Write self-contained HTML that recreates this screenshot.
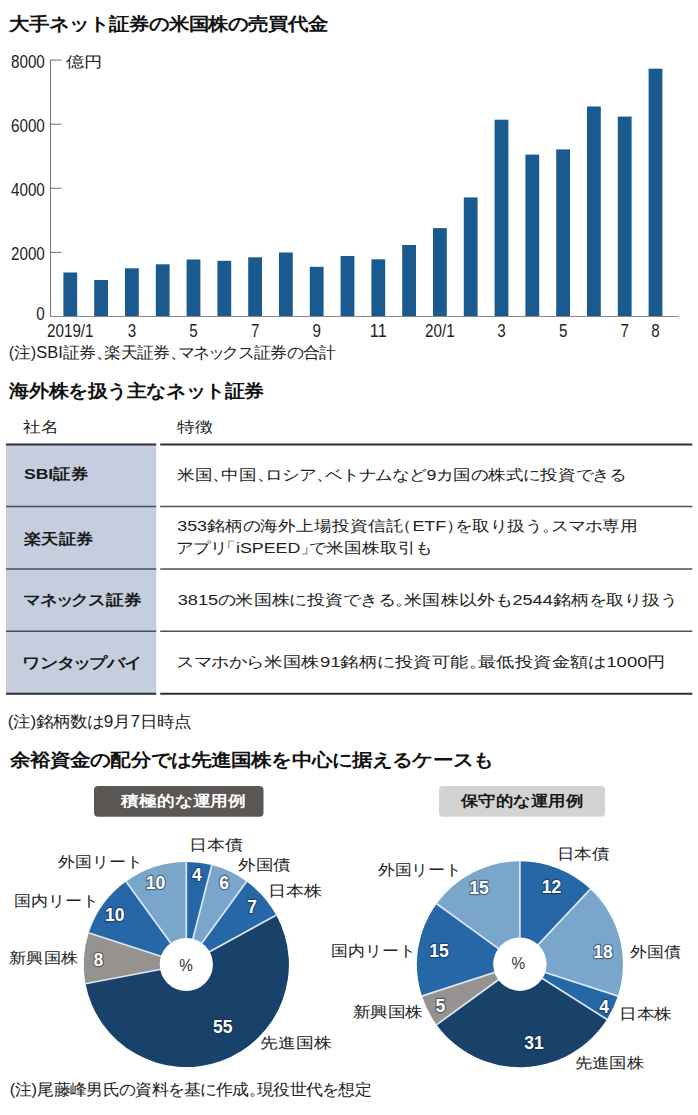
<!DOCTYPE html>
<html><head><meta charset="utf-8"><style>
html,body{margin:0;padding:0;background:#fff;}
svg{display:block;font-family:"Liberation Sans", sans-serif;}
</style></head><body>
<svg width="698" height="1115" viewBox="0 0 698 1115">
<rect width="698" height="1115" fill="#fff"/>
<line x1="50.5" y1="60" x2="50.5" y2="316.5" stroke="#7a7a7a" stroke-width="1.1"/>
<line x1="50.5" y1="60.1" x2="61.5" y2="60.1" stroke="#7a7a7a" stroke-width="1.1"/>
<line x1="50.5" y1="124.2" x2="61.5" y2="124.2" stroke="#7a7a7a" stroke-width="1.1"/>
<line x1="50.5" y1="188.3" x2="61.5" y2="188.3" stroke="#7a7a7a" stroke-width="1.1"/>
<line x1="50.5" y1="252.4" x2="61.5" y2="252.4" stroke="#7a7a7a" stroke-width="1.1"/>
<text x="11.00" y="67.96" font-size="19" fill="#222" textLength="33.80" lengthAdjust="spacingAndGlyphs">8000</text>
<text x="11.00" y="132.06" font-size="19" fill="#222" textLength="33.80" lengthAdjust="spacingAndGlyphs">6000</text>
<text x="11.00" y="196.16" font-size="19" fill="#222" textLength="33.80" lengthAdjust="spacingAndGlyphs">4000</text>
<text x="11.00" y="260.25" font-size="19" fill="#222" textLength="33.80" lengthAdjust="spacingAndGlyphs">2000</text>
<text x="36.36" y="320.45" font-size="19" fill="#222" textLength="8.45" lengthAdjust="spacingAndGlyphs">0</text>
<rect x="63.40" y="272.5" width="13.8" height="44.0" fill="#1b5a8e"/>
<rect x="94.20" y="280" width="13.8" height="36.5" fill="#1b5a8e"/>
<rect x="125.00" y="268.3" width="13.8" height="48.2" fill="#1b5a8e"/>
<rect x="155.80" y="264.3" width="13.8" height="52.2" fill="#1b5a8e"/>
<rect x="186.60" y="259.5" width="13.8" height="57.0" fill="#1b5a8e"/>
<rect x="217.40" y="260.8" width="13.8" height="55.7" fill="#1b5a8e"/>
<rect x="248.20" y="257.3" width="13.8" height="59.2" fill="#1b5a8e"/>
<rect x="279.00" y="252.5" width="13.8" height="64.0" fill="#1b5a8e"/>
<rect x="309.80" y="266.8" width="13.8" height="49.7" fill="#1b5a8e"/>
<rect x="340.60" y="256" width="13.8" height="60.5" fill="#1b5a8e"/>
<rect x="371.40" y="259.3" width="13.8" height="57.2" fill="#1b5a8e"/>
<rect x="402.20" y="245" width="13.8" height="71.5" fill="#1b5a8e"/>
<rect x="433.00" y="228.1" width="13.8" height="88.4" fill="#1b5a8e"/>
<rect x="463.80" y="197.4" width="13.8" height="119.1" fill="#1b5a8e"/>
<rect x="494.60" y="119.7" width="13.8" height="196.8" fill="#1b5a8e"/>
<rect x="525.40" y="154.6" width="13.8" height="161.9" fill="#1b5a8e"/>
<rect x="556.20" y="149.4" width="13.8" height="167.1" fill="#1b5a8e"/>
<rect x="587.00" y="106.5" width="13.8" height="210.0" fill="#1b5a8e"/>
<rect x="617.80" y="116.6" width="13.8" height="199.9" fill="#1b5a8e"/>
<rect x="648.60" y="68.7" width="13.8" height="247.8" fill="#1b5a8e"/>
<line x1="50.0" y1="316.5" x2="679" y2="316.5" stroke="#8a8a8a" stroke-width="1.2"/>
<text x="70.30" y="337.0" font-size="19" fill="#222" text-anchor="middle" textLength="46.48" lengthAdjust="spacingAndGlyphs">2019/1</text>
<text x="131.90" y="337.0" font-size="19" fill="#222" text-anchor="middle" textLength="8.45" lengthAdjust="spacingAndGlyphs">3</text>
<text x="193.50" y="337.0" font-size="19" fill="#222" text-anchor="middle" textLength="8.45" lengthAdjust="spacingAndGlyphs">5</text>
<text x="255.10" y="337.0" font-size="19" fill="#222" text-anchor="middle" textLength="8.45" lengthAdjust="spacingAndGlyphs">7</text>
<text x="316.70" y="337.0" font-size="19" fill="#222" text-anchor="middle" textLength="8.45" lengthAdjust="spacingAndGlyphs">9</text>
<text x="378.30" y="337.0" font-size="19" fill="#222" text-anchor="middle" textLength="16.90" lengthAdjust="spacingAndGlyphs">11</text>
<text x="439.90" y="337.0" font-size="19" fill="#222" text-anchor="middle" textLength="29.58" lengthAdjust="spacingAndGlyphs">20/1</text>
<text x="501.50" y="337.0" font-size="19" fill="#222" text-anchor="middle" textLength="8.45" lengthAdjust="spacingAndGlyphs">3</text>
<text x="563.10" y="337.0" font-size="19" fill="#222" text-anchor="middle" textLength="8.45" lengthAdjust="spacingAndGlyphs">5</text>
<text x="624.70" y="337.0" font-size="19" fill="#222" text-anchor="middle" textLength="8.45" lengthAdjust="spacingAndGlyphs">7</text>
<text x="655.50" y="337.0" font-size="19" fill="#222" text-anchor="middle" textLength="8.45" lengthAdjust="spacingAndGlyphs">8</text>
<rect x="6" y="445" width="150.2" height="249" fill="#c5cedf"/>
<line x1="6" y1="444.5" x2="156.2" y2="444.5" stroke="#2b2e36" stroke-width="2"/>
<line x1="160.2" y1="444.5" x2="692.3" y2="444.5" stroke="#2b2e36" stroke-width="2"/>
<line x1="6" y1="506.5" x2="156.2" y2="506.5" stroke="#4a4f59" stroke-width="1.6"/>
<line x1="160.2" y1="506.5" x2="692.3" y2="506.5" stroke="#4a4f59" stroke-width="1.6"/>
<line x1="6" y1="569" x2="156.2" y2="569" stroke="#4a4f59" stroke-width="1.6"/>
<line x1="160.2" y1="569" x2="692.3" y2="569" stroke="#4a4f59" stroke-width="1.6"/>
<line x1="6" y1="631.3" x2="156.2" y2="631.3" stroke="#4a4f59" stroke-width="1.6"/>
<line x1="160.2" y1="631.3" x2="692.3" y2="631.3" stroke="#4a4f59" stroke-width="1.6"/>
<line x1="6" y1="693.8" x2="156.2" y2="693.8" stroke="#2b2e36" stroke-width="2"/>
<line x1="160.2" y1="693.8" x2="692.3" y2="693.8" stroke="#2b2e36" stroke-width="2"/>
<rect x="94" y="786" width="169.5" height="30.8" rx="4" fill="#5b5755"/>
<rect x="439" y="786" width="166" height="30.8" rx="4" fill="#d4d3d3"/>
<path d="M186.3,964.5 L186.30,861.90 A102.6,102.6 0 0 1 211.82,865.12 Z" fill="#2667a8"/>
<path d="M186.3,964.5 L211.82,865.12 A102.6,102.6 0 0 1 246.61,881.49 Z" fill="#7aa6cc"/>
<path d="M186.3,964.5 L246.61,881.49 A102.6,102.6 0 0 1 276.21,915.07 Z" fill="#2667a8"/>
<path d="M186.3,964.5 L276.21,915.07 A102.6,102.6 0 1 1 85.52,983.73 Z" fill="#18426a"/>
<path d="M186.3,964.5 L85.52,983.73 A102.6,102.6 0 0 1 88.72,932.79 Z" fill="#96928f"/>
<path d="M186.3,964.5 L88.72,932.79 A102.6,102.6 0 0 1 125.99,881.49 Z" fill="#2667a8"/>
<path d="M186.3,964.5 L125.99,881.49 A102.6,102.6 0 0 1 186.30,861.90 Z" fill="#7aa6cc"/>
<line x1="186.3" y1="964.5" x2="186.30" y2="861.60" stroke="#dbe8f5" stroke-width="1.7"/>
<line x1="186.3" y1="964.5" x2="211.89" y2="864.83" stroke="#dbe8f5" stroke-width="1.7"/>
<line x1="186.3" y1="964.5" x2="246.78" y2="881.25" stroke="#dbe8f5" stroke-width="1.7"/>
<line x1="186.3" y1="964.5" x2="276.47" y2="914.93" stroke="#dbe8f5" stroke-width="1.7"/>
<line x1="186.3" y1="964.5" x2="85.22" y2="983.78" stroke="#dbe8f5" stroke-width="1.7"/>
<line x1="186.3" y1="964.5" x2="88.44" y2="932.70" stroke="#dbe8f5" stroke-width="1.7"/>
<line x1="186.3" y1="964.5" x2="125.82" y2="881.25" stroke="#dbe8f5" stroke-width="1.7"/>
<circle cx="186.3" cy="964.5" r="26.6" fill="#fff"/>
<path d="M519.9,964.2 L519.90,861.20 A103,103 0 0 1 590.41,889.12 Z" fill="#2667a8"/>
<path d="M519.9,964.2 L590.41,889.12 A103,103 0 0 1 617.86,996.03 Z" fill="#7aa6cc"/>
<path d="M519.9,964.2 L617.86,996.03 A103,103 0 0 1 606.87,1019.39 Z" fill="#2667a8"/>
<path d="M519.9,964.2 L606.87,1019.39 A103,103 0 0 1 436.57,1024.74 Z" fill="#18426a"/>
<path d="M519.9,964.2 L436.57,1024.74 A103,103 0 0 1 421.94,996.03 Z" fill="#96928f"/>
<path d="M519.9,964.2 L421.94,996.03 A103,103 0 0 1 436.57,903.66 Z" fill="#2667a8"/>
<path d="M519.9,964.2 L436.57,903.66 A103,103 0 0 1 519.90,861.20 Z" fill="#7aa6cc"/>
<line x1="519.9" y1="964.2" x2="519.90" y2="860.90" stroke="#dbe8f5" stroke-width="1.7"/>
<line x1="519.9" y1="964.2" x2="590.61" y2="888.90" stroke="#dbe8f5" stroke-width="1.7"/>
<line x1="519.9" y1="964.2" x2="618.14" y2="996.12" stroke="#dbe8f5" stroke-width="1.7"/>
<line x1="519.9" y1="964.2" x2="607.12" y2="1019.55" stroke="#dbe8f5" stroke-width="1.7"/>
<line x1="519.9" y1="964.2" x2="436.33" y2="1024.92" stroke="#dbe8f5" stroke-width="1.7"/>
<line x1="519.9" y1="964.2" x2="421.66" y2="996.12" stroke="#dbe8f5" stroke-width="1.7"/>
<line x1="519.9" y1="964.2" x2="436.33" y2="903.48" stroke="#dbe8f5" stroke-width="1.7"/>
<circle cx="519.9" cy="964.2" r="26.7" fill="#fff"/>
<text x="196.9" y="881.39" font-size="18.1" font-weight="bold" fill="#fff" text-anchor="middle" textLength="9.76" lengthAdjust="spacingAndGlyphs" stroke="#10243d" stroke-width="2.4" stroke-opacity="0.5" paint-order="stroke" stroke-linejoin="round">4</text>
<text x="224.2" y="888.94" font-size="18.1" font-weight="bold" fill="#fff" text-anchor="middle" textLength="9.76" lengthAdjust="spacingAndGlyphs" stroke="#10243d" stroke-width="2.4" stroke-opacity="0.5" paint-order="stroke" stroke-linejoin="round">6</text>
<text x="252.1" y="913.34" font-size="18.1" font-weight="bold" fill="#fff" text-anchor="middle" textLength="9.76" lengthAdjust="spacingAndGlyphs" stroke="#10243d" stroke-width="2.4" stroke-opacity="0.5" paint-order="stroke" stroke-linejoin="round">7</text>
<text x="222.8" y="1032.69" font-size="18.1" font-weight="bold" fill="#fff" text-anchor="middle" textLength="19.52" lengthAdjust="spacingAndGlyphs" stroke="#10243d" stroke-width="2.4" stroke-opacity="0.5" paint-order="stroke" stroke-linejoin="round">55</text>
<text x="98.4" y="965.94" font-size="18.1" font-weight="bold" fill="#fff" text-anchor="middle" textLength="9.76" lengthAdjust="spacingAndGlyphs" stroke="#10243d" stroke-width="2.4" stroke-opacity="0.5" paint-order="stroke" stroke-linejoin="round">8</text>
<text x="114.7" y="921.49" font-size="18.1" font-weight="bold" fill="#fff" text-anchor="middle" textLength="19.52" lengthAdjust="spacingAndGlyphs" stroke="#10243d" stroke-width="2.4" stroke-opacity="0.5" paint-order="stroke" stroke-linejoin="round">10</text>
<text x="155.4" y="888.94" font-size="18.1" font-weight="bold" fill="#fff" text-anchor="middle" textLength="19.52" lengthAdjust="spacingAndGlyphs" stroke="#10243d" stroke-width="2.4" stroke-opacity="0.5" paint-order="stroke" stroke-linejoin="round">10</text>
<text x="551.4" y="892.54" font-size="18.1" font-weight="bold" fill="#fff" text-anchor="middle" textLength="19.52" lengthAdjust="spacingAndGlyphs" stroke="#10243d" stroke-width="2.4" stroke-opacity="0.5" paint-order="stroke" stroke-linejoin="round">12</text>
<text x="603.1" y="957.79" font-size="18.1" font-weight="bold" fill="#fff" text-anchor="middle" textLength="19.52" lengthAdjust="spacingAndGlyphs" stroke="#10243d" stroke-width="2.4" stroke-opacity="0.5" paint-order="stroke" stroke-linejoin="round">18</text>
<text x="604.1" y="1012.79" font-size="18.1" font-weight="bold" fill="#fff" text-anchor="middle" textLength="9.76" lengthAdjust="spacingAndGlyphs" stroke="#10243d" stroke-width="2.4" stroke-opacity="0.5" paint-order="stroke" stroke-linejoin="round">4</text>
<text x="533.9" y="1049.49" font-size="18.1" font-weight="bold" fill="#fff" text-anchor="middle" textLength="19.52" lengthAdjust="spacingAndGlyphs" stroke="#10243d" stroke-width="2.4" stroke-opacity="0.5" paint-order="stroke" stroke-linejoin="round">31</text>
<text x="440.5" y="1011.99" font-size="18.1" font-weight="bold" fill="#fff" text-anchor="middle" textLength="9.76" lengthAdjust="spacingAndGlyphs" stroke="#10243d" stroke-width="2.4" stroke-opacity="0.5" paint-order="stroke" stroke-linejoin="round">5</text>
<text x="438.9" y="957.29" font-size="18.1" font-weight="bold" fill="#fff" text-anchor="middle" textLength="19.52" lengthAdjust="spacingAndGlyphs" stroke="#10243d" stroke-width="2.4" stroke-opacity="0.5" paint-order="stroke" stroke-linejoin="round">15</text>
<text x="479.0" y="893.54" font-size="18.1" font-weight="bold" fill="#fff" text-anchor="middle" textLength="19.52" lengthAdjust="spacingAndGlyphs" stroke="#10243d" stroke-width="2.4" stroke-opacity="0.5" paint-order="stroke" stroke-linejoin="round">15</text>
<text x="186.0" y="970.63" font-size="17" fill="#333" text-anchor="middle" textLength="13.60" lengthAdjust="spacingAndGlyphs">%</text>
<text x="518.4" y="968.93" font-size="17" fill="#333" text-anchor="middle" textLength="13.60" lengthAdjust="spacingAndGlyphs">%</text>
<text transform="scale(1.1327 1)" x="8.03 25.63 43.23 60.83 78.43 96.03 113.63 131.23 148.83 166.43 184.03 201.63 219.23 236.83 254.43 272.03" y="30.24" font-size="17.6" font-weight="bold" fill="#111">大手ネット証券の米国株の売買代金</text>
<text transform="scale(1.2240 1)" x="53.74 68.74" y="67.00" font-size="15" font-weight="normal" fill="#222">億円</text>
<text transform="scale(1.0562 1)" x="8.38 13.57 29.17 34.37 44.77 55.18 59.51 75.11 90.71 98.51 114.11 129.71 145.31 160.91 168.32 183.14 196.79 210.44 225.26 240.47 256.07 271.28 286.49 302.09" y="358.44" font-size="15.6" font-weight="normal" fill="#222">(注)SBI証券、楽天証券、マネックス証券の合計</text>
<text transform="scale(1.1121 1)" x="8.53 26.13 43.73 61.33 78.93 96.53 114.13 131.73 149.33 166.93 184.53 202.13 219.73" y="397.14" font-size="17.6" font-weight="bold" fill="#111">海外株を扱う主なネット証券</text>
<text transform="scale(1.1785 1)" x="19.83 35.03" y="432.48" font-size="15.2" font-weight="normal" fill="#222">社名</text>
<text transform="scale(1.1922 1)" x="148.27 163.47" y="432.08" font-size="15.2" font-weight="normal" fill="#222">特徴</text>
<text transform="scale(1.1550 1)" x="20.75 30.89 41.87 46.09 61.29" y="479.48" font-size="15.2" font-weight="bold" fill="#1a1a1a">SBI証券</text>
<text transform="scale(1.1495 1)" x="20.69 35.89 51.09 66.29" y="543.78" font-size="15.2" font-weight="bold" fill="#1a1a1a">楽天証券</text>
<text transform="scale(1.1726 1)" x="19.90 34.34 47.64 60.94 75.38 90.20 105.40" y="605.28" font-size="15.2" font-weight="bold" fill="#1a1a1a">マネックス証券</text>
<text transform="scale(1.2097 1)" x="18.45 32.89 47.33 60.63 73.93 88.37 102.81" y="667.58" font-size="15.2" font-weight="bold" fill="#1a1a1a">ワンタップバイ</text>
<text transform="scale(1.1697 1)" x="151.13 166.33 181.53 189.13 204.33 219.53 226.75 241.19 255.63 270.45 277.67 292.11 306.55 320.99 335.43 349.87 364.69 372.77 387.59 402.41 417.23 432.43 447.25 462.07 477.27 492.09 506.53 520.97" y="479.98" font-size="15.2" font-weight="normal" fill="#222">米国、中国、ロシア、ベトナムなど9カ国の株式に投資できる</text>
<text transform="scale(1.1797 1)" x="150.19 158.65 167.10 175.55 190.75 205.57 220.39 235.59 250.79 265.99 281.19 296.39 311.59 326.79 334.39 349.59 359.73 369.02 378.30 385.52 400.34 415.16 429.98 444.80 459.62 466.84 481.28 495.72 510.54 525.74" y="530.68" font-size="15.2" font-weight="normal" fill="#222">353銘柄の海外上場投資信託（ETF）を取り扱う。スマホ専用</text>
<text transform="scale(1.1736 1)" x="149.74 164.18 178.62 185.84 201.04 204.42 214.56 224.69 234.83 244.97 255.95 263.17 277.99 293.19 308.39 323.59 338.79 353.61" y="552.68" font-size="15.2" font-weight="normal" fill="#222">アプリ「iSPEED」で米国株取引も</text>
<text transform="scale(1.1949 1)" x="148.78 157.23 165.69 174.14 182.21 197.03 212.23 227.43 242.25 257.07 272.27 287.09 301.53 315.97 330.79 338.39 353.59 368.79 383.99 399.19 414.01 428.83 437.29 445.74 454.20 462.65 477.85 492.67 507.49 522.31 537.13 551.95" y="604.88" font-size="15.2" font-weight="normal" fill="#222">3815の米国株に投資できる。米国株以外も2544銘柄を取り扱う</text>
<text transform="scale(1.2149 1)" x="145.13 159.57 174.01 188.45 202.89 217.71 232.91 248.11 263.31 271.76 280.22 295.42 310.24 325.06 340.26 355.46 370.66 385.86 393.46 408.66 423.86 439.06 454.26 469.46 484.28 499.10 507.55 516.00 524.46 532.91" y="666.68" font-size="15.2" font-weight="normal" fill="#222">スマホから米国株91銘柄に投資可能。最低投資金額は1000円</text>
<text transform="scale(1.0966 1)" x="7.06 12.26 27.86 33.05 48.65 64.25 79.46 94.67 103.35 118.95 127.62 143.22 158.82" y="726.84" font-size="15.6" font-weight="normal" fill="#222">(注)銘柄数は9月7日時点</text>
<text transform="scale(1.1443 1)" x="8.47 26.07 43.67 61.27 78.87 96.47 114.07 131.67 149.27 166.87 184.47 202.07 219.67 237.27 254.87 272.47 290.07 307.67 325.27 342.87 360.47 378.07 395.67 413.27" y="765.84" font-size="17.6" font-weight="bold" fill="#111">余裕資金の配分では先進国株を中心に据えるケースも</text>
<text transform="scale(1.1784 1)" x="102.59 117.79 132.99 148.19 163.39 178.59 193.79" y="806.28" font-size="15.2" font-weight="bold" fill="#fff">積極的な運用例</text>
<text transform="scale(1.1547 1)" x="398.96 414.16 429.36 444.56 459.76 474.96 490.16" y="806.08" font-size="15.2" font-weight="bold" fill="#1a1a1a">保守的な運用例</text>
<text transform="scale(1.2009 1)" x="157.14 172.14 187.14" y="849.60" font-size="15.0" font-weight="normal" fill="#222">日本債</text>
<text transform="scale(1.1662 1)" x="204.51 219.51 234.51" y="869.90" font-size="15.0" font-weight="normal" fill="#222">外国債</text>
<text transform="scale(1.2013 1)" x="223.34 238.34 253.34" y="895.80" font-size="15.0" font-weight="normal" fill="#222">日本株</text>
<text transform="scale(1.1844 1)" x="219.77 234.77 249.77 264.77" y="1047.90" font-size="15.0" font-weight="normal" fill="#222">先進国株</text>
<text transform="scale(1.1464 1)" x="8.02 23.02 38.02 53.02" y="962.70" font-size="15.0" font-weight="normal" fill="#222">新興国株</text>
<text transform="scale(1.1288 1)" x="12.67 27.67 42.67 57.67 72.67" y="905.60" font-size="15.0" font-weight="normal" fill="#222">国内リート</text>
<text transform="scale(1.1236 1)" x="52.07 67.07 82.07 97.07 112.07" y="866.60" font-size="15.0" font-weight="normal" fill="#222">外国リート</text>
<text transform="scale(1.1671 1)" x="476.88 491.88 506.88" y="858.70" font-size="15.0" font-weight="normal" fill="#222">日本債</text>
<text transform="scale(1.1252 1)" x="560.16 575.16 590.16" y="956.90" font-size="15.0" font-weight="normal" fill="#222">外国債</text>
<text transform="scale(1.1785 1)" x="525.29 540.29 555.29" y="1018.60" font-size="15.0" font-weight="normal" fill="#222">日本株</text>
<text transform="scale(1.1577 1)" x="496.43 511.43 526.43 541.43" y="1067.90" font-size="15.0" font-weight="normal" fill="#222">先進国株</text>
<text transform="scale(1.1750 1)" x="300.01 315.01 330.01 345.01" y="1016.90" font-size="15.0" font-weight="normal" fill="#222">新興国株</text>
<text transform="scale(1.1237 1)" x="295.00 310.00 325.00 340.00 355.00" y="956.00" font-size="15.0" font-weight="normal" fill="#222">国内リート</text>
<text transform="scale(1.1203 1)" x="337.15 352.15 367.15 382.15 397.15" y="874.60" font-size="15.0" font-weight="normal" fill="#222">外国リート</text>
<text transform="scale(1.0557 1)" x="9.14 14.34 29.94 35.13 50.73 66.33 81.93 97.53 112.74 127.95 143.55 158.76 173.97 189.18 204.39 219.99 235.59 243.39 258.99 274.59 290.19 305.40 320.61 336.21" y="1094.64" font-size="15.6" font-weight="normal" fill="#222">(注)尾藤峰男氏の資料を基に作成。現役世代を想定</text>
</svg>
</body></html>
